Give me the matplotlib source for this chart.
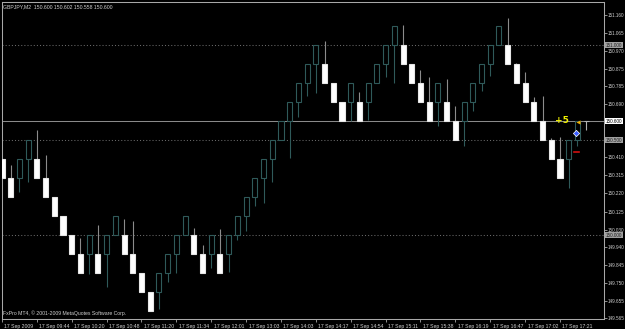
## GBPJPY renko chart from MT4 (17 Sep 2009), redrawn with matplotlib

import numpy as np
import matplotlib.pyplot as plt
from matplotlib.patches import Rectangle
from matplotlib.transforms import ScaledTranslation, blended_transform_factory

## Bricks (one brick = 0.1 yen)
opens = [150.4, 150.3, 150.3, 150.4, 150.4, 150.3, 150.2, 150.1, 150.0, 149.9,
         149.9, 149.9, 149.9, 150.0, 150.0, 149.9, 149.8, 149.7, 149.7, 149.8,
         149.9, 150.0, 150.0, 149.9, 149.9, 149.9, 149.9, 150.0, 150.1, 150.2,
         150.3, 150.4, 150.5, 150.6, 150.7, 150.8, 150.9, 150.9, 150.8, 150.7,
         150.7, 150.7, 150.7, 150.8, 150.9, 151.0, 151.0, 150.9, 150.8, 150.7,
         150.7, 150.7, 150.6, 150.6, 150.7, 150.8, 150.9, 151.0, 151.0, 150.9,
         150.8, 150.7, 150.6, 150.5, 150.4, 150.4, 150.5, 150.6]
closes = [150.3, 150.2, 150.4, 150.5, 150.3, 150.2, 150.1, 150.0, 149.9, 149.8,
          150.0, 149.8, 150.0, 150.1, 149.9, 149.8, 149.7, 149.6, 149.8, 149.9,
          150.0, 150.1, 149.9, 149.8, 150.0, 149.8, 150.0, 150.1, 150.2, 150.3,
          150.4, 150.5, 150.6, 150.7, 150.8, 150.9, 151.0, 150.8, 150.7, 150.6,
          150.8, 150.6, 150.8, 150.9, 151.0, 151.1, 150.9, 150.8, 150.7, 150.6,
          150.8, 150.6, 150.5, 150.7, 150.8, 150.9, 151.0, 151.1, 150.9, 150.8,
          150.7, 150.6, 150.5, 150.4, 150.3, 150.5, 150.6, 150.6]
highs = [150.4, 150.368, 150.4, 150.5, 150.555, 150.424, 150.2, 150.1, 150.0, 149.988,
         150.0, 150.054, 150.0, 150.1, 150.084, 150.075, 149.8, 149.7, 149.8, 149.9,
         150.0, 150.1, 150.04, 149.95, 150.0, 150.031, 150.0, 150.1, 150.2, 150.3,
         150.4, 150.5, 150.6, 150.7, 150.8, 150.9, 151.0, 151.02, 150.8, 150.7,
         150.8, 150.755, 150.8, 150.9, 151.0, 151.1, 151.105, 150.9, 150.869, 150.83,
         150.8, 150.822, 150.68, 150.7, 150.8, 150.9, 151.0, 151.1, 151.14, 150.904,
         150.857, 150.726, 150.733, 150.51, 150.515, 150.5, 150.6, 150.6]
lows = [150.3, 150.2, 150.227, 150.281, 150.3, 150.2, 150.1, 150.0, 149.9, 149.8,
        149.798, 149.8, 149.726, 150.0, 149.9, 149.8, 149.7, 149.6, 149.61, 149.752,
        149.804, 150.0, 149.9, 149.8, 149.826, 149.8, 149.808, 149.974, 150.024, 150.154,
        150.171, 150.281, 150.5, 150.407, 150.621, 150.733, 150.75, 150.8, 150.7, 150.6,
        150.6, 150.6, 150.607, 150.8, 150.83, 150.803, 150.9, 150.8, 150.7, 150.6,
        150.577, 150.6, 150.5, 150.471, 150.651, 150.761, 150.84, 151.0, 150.9, 150.8,
        150.7, 150.6, 150.5, 150.4, 150.3, 150.25, 150.467, 150.555]

time_labels = ["17 Sep 2009", "17 Sep 09:44", "17 Sep 10:20", "17 Sep 10:48",
               "17 Sep 11:20", "17 Sep 11:34", "17 Sep 12:01", "17 Sep 13:03",
               "17 Sep 14:03", "17 Sep 14:17", "17 Sep 14:54", "17 Sep 15:11",
               "17 Sep 15:38", "17 Sep 16:19", "17 Sep 16:47", "17 Sep 17:02",
               "17 Sep 17:21"]
price_ticks = [151.160, 151.065, 150.970, 150.875, 150.785, 150.690, 150.410,
               150.315, 150.220, 150.125, 150.030, 149.940, 149.845, 149.750,
               149.655, 149.565]
level_lines = [151.0, 150.5, 150.0]
bid = 150.600
header = "GBPJPY,M2  150.600 150.602 150.558 150.600"
footer = "FxPro MT4, \u00a9 2001-2009 MetaQuotes Software Corp."

## Colours and sizes
BULL = '#2F5A5A'
BEAR_WICK = '#8C8C8C'
FRAME = '#A8A8A8'
TEXT = '#D0D0D0'
FS = 3.7
FS_Y = 3.35

plt.rcParams['font.family'] = ['Liberation Sans', 'DejaVu Sans']

W, H = 625, 329
fig = plt.figure(figsize=(W / 100, H / 100), dpi=100, facecolor='black')
ax = fig.add_axes([2 / W, 10 / H, 602 / W, 317 / H])
ax.set_facecolor('black')
ax.set_xlim(0.01, 69.05)
ax.set_ylim(149.560, 151.2266)

## Horizontal lines: dotted levels and the bid line
for lvl in level_lines:
    ax.axhline(lvl, color='#6A6A6A', lw=0.75, ls=(0, (1, 2)), zorder=1)
ax.axhline(bid, color='#8A8A8A', lw=0.75, zorder=1)

## Candles
bw = 0.58
for i, (o, c, h, l) in enumerate(zip(opens, closes, highs, lows)):
    if c > o:
        wick, face, edge = BULL, 'black', BULL
    elif c < o:
        wick, face, edge = BEAR_WICK, 'white', '#E6E6E6'
    else:
        wick, face, edge = '#B0B0B0', 'black', '#B0B0B0'
    ax.vlines(i, l, h, color=wick, lw=0.8, zorder=2)
    ax.add_patch(Rectangle((i - bw / 2, min(o, c)), bw, abs(c - o),
                           facecolor=face, edgecolor=edge, lw=0.8, zorder=3))

## Little trade markers near the last bricks
ax.text(63.4, 150.606, "+5", color='#F0F000', fontsize=6.5, fontweight='bold',
        va='center', ha='left', family='DejaVu Sans', zorder=6)
ax.plot([65.84], [150.538], marker='D', ms=3.2, color='#3A5CFF', mec='white', mew=0.5, zorder=6)
ax.plot([66.07], [150.596], marker='<', ms=3, color='#F0B000', mew=0, zorder=6)
ax.plot([65.6, 66.2], [150.438, 150.438], color='#D01010', lw=1.2, zorder=6)

## Frame
for side in ['left', 'top', 'right', 'bottom']:
    ax.spines[side].set_color(FRAME)
    ax.spines[side].set_linewidth(0.75)

## Time axis
tick_idx = np.arange(0, len(opens), 4)[:len(time_labels)]
ax.set_xticks(tick_idx)
ax.set_xticklabels(time_labels, ha='left')
ax.tick_params(axis='x', colors=FRAME, labelcolor=TEXT, labelsize=FS,
               length=2.5, width=0.6, pad=1.2)
shift = ScaledTranslation(2.5 / 100, 0, fig.dpi_scale_trans)
for lab in ax.get_xticklabels():
    lab.set_transform(lab.get_transform() + shift)

## Price axis on the right
ax.yaxis.tick_right()
ax.set_yticks(price_ticks)
ax.set_yticklabels([f"{p:.3f}" for p in price_ticks])
ax.tick_params(axis='y', colors=FRAME, labelcolor=TEXT, labelsize=FS_Y,
               length=2, width=0.6, pad=0.8)

## Label boxes for the lines
trans = blended_transform_factory(ax.transAxes, ax.transData)
for lvl in level_lines:
    ax.text(1.003, lvl, f"{lvl:.3f}", transform=trans, va='center', ha='left',
            fontsize=FS_Y, color='#202020', clip_on=False, zorder=7,
            bbox=dict(boxstyle='square,pad=0.12', fc='#A0A0A0', ec='none'))
ax.text(1.003, bid, f"{bid:.3f}", transform=trans, va='center', ha='left',
        fontsize=FS_Y, color='black', clip_on=False, zorder=7,
        bbox=dict(boxstyle='square,pad=0.12', fc='white', ec='none'))

## Header and copyright
fig.text(3 / W, 1 - 7 / H, header, color=TEXT, fontsize=FS, va='center', ha='left')
fig.text(3 / W, 1 - 313 / H, footer, color=TEXT, fontsize=FS, va='center', ha='left')

fig.savefig('out.png', dpi=100, facecolor='black')
